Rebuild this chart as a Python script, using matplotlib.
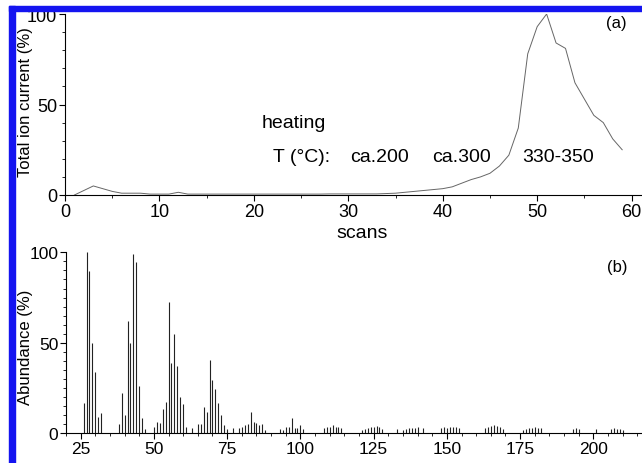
import matplotlib.pyplot as plt
from matplotlib.patches import Rectangle
from matplotlib.ticker import MultipleLocator

plt.rcParams['font.family'] = ['Liberation Sans', 'DejaVu Sans']

# (a) total ion current vs scan number
scans = list(range(1, 60))
tic = [0, 2.5, 5, 3.5, 2, 1, 1, 1, 0.5, 0.5,
       0.5, 1.5, 0.5, 0.5, 0.5, 0.5, 0.5, 0.5, 0.5, 0.5,
       0.5, 0.5, 0.5, 0.5, 0.5, 0.5, 0.5, 0.6, 0.6, 0.6,
       0.6, 0.6, 0.6, 0.8, 1, 1.5, 2, 2.5, 3, 3.5,
       4.5, 6.5, 8.5, 10, 12, 16, 22, 37, 78, 93,
       100, 84, 81, 62, 53, 44, 40, 31, 25]

# (b) mass spectrum
mz = [26, 27, 28, 29, 30, 31, 32,
      38, 39, 40, 41, 42, 43, 44, 45, 46, 47,
      50, 51, 52, 53, 54, 55, 56, 57, 58, 59, 60, 61, 63,
      65, 66, 67, 68, 69, 70, 71, 72, 73, 74, 75, 77,
      79, 80, 81, 82, 83, 84, 85, 86, 87, 88,
      93, 94, 95, 96, 97, 98, 99, 100, 101,
      108, 109, 110, 111, 112, 113, 114,
      121, 122, 123, 124, 125, 126, 127, 128,
      133, 135, 136, 137, 138, 139, 140, 142,
      148, 149, 150, 151, 152, 153, 154,
      163, 164, 165, 166, 167, 168, 169,
      176, 177, 178, 179, 180, 181, 182,
      193, 194, 195,
      201, 206, 207, 208, 209, 210]
abundance = [17, 100, 89.5, 50, 34, 9, 11,
             5, 22, 10, 62, 50, 99, 94.5, 26, 8.5, 2.4,
             3.3, 6, 5.7, 13.4, 17.5, 72.7, 39, 55, 37.4, 20, 16, 3.3, 2.8,
             5.2, 5.2, 14.4, 11.6, 40.7, 29.7, 24.5, 17, 10, 4.6, 2.4, 2.8,
             2.8, 3.3, 4.6, 5.2, 11.6, 6.4, 5.7, 4.8, 5.2, 2,
             2.4, 2, 3.3, 3.7, 8.5, 2.8, 3, 4.8, 2.4,
             3, 3.3, 3.7, 4.6, 3.7, 3.3, 2.8,
             2, 2.4, 2.8, 3.3, 3.7, 3.9, 3.3, 2.4,
             2.4, 2, 2.4, 2.8, 2.8, 3, 3.3, 2.8,
             3, 3.3, 3, 3.7, 3.3, 3.3, 3,
             3, 3.3, 4.2, 4.6, 4.2, 3.7, 2.4,
             2, 2.4, 2.8, 3, 3.3, 3, 2.8,
             2.4, 2.8, 2.4,
             2.4, 2.4, 2.8, 2.4, 2.4, 1.8]

fig = plt.figure(figsize=(6.42, 4.64), dpi=100)
W, H = 642, 464

def px_axes(left, top, right, bottom):
    return fig.add_axes([left / W, 1 - bottom / H, (right - left) / W, (bottom - top) / H])

ax1 = px_axes(65, 15, 642, 196)
ax2 = px_axes(66, 253.3, 642, 434.3)

for ax in (ax1, ax2):
    ax.spines['top'].set_visible(False)
    ax.spines['right'].set_visible(False)
    ax.tick_params(which='major', direction='out', length=4.5, width=0.8, pad=1)
    ax.tick_params(which='minor', direction='out', length=2.5, width=0.6)
    ax.set_ylim(0, 100)
    ax.set_yticks([0, 50, 100])

# top panel
ax1.plot(scans, tic, color='#666666', lw=0.7)
ax1.set_xlim(0, 61.1)
ax1.xaxis.set_major_locator(MultipleLocator(10))
ax1.xaxis.set_minor_locator(MultipleLocator(5))
ax1.yaxis.set_minor_locator(MultipleLocator(10))
ax1.tick_params(labelsize=13)
ax1.set_xlabel('scans', fontsize=14, va='top')
ax1.xaxis.set_label_coords(0.515, -0.16)
ax1.set_ylabel('Total ion current (%)', fontsize=12)
ax1.yaxis.set_label_coords(-0.055, 0.52)

ax1.text(20.8, 40.2, 'heating', fontsize=14, va='center')
ax1.text(22, 21.5, 'T (°C):', fontsize=14, va='center')
ax1.text(30.2, 21.5, 'ca.200', fontsize=14, va='center')
ax1.text(38.9, 21.5, 'ca.300', fontsize=14, va='center')
ax1.text(48.4, 21.5, '330-350', fontsize=14, va='center')
ax1.text(58.4, 95.4, '(a)', fontsize=12, ha='center', va='center')

# bottom panel
ax2.vlines(mz, 0, abundance, color='#222222', lw=0.8)
ax2.set_xlim(20, 216.6)
ax2.xaxis.set_major_locator(MultipleLocator(25))
ax2.xaxis.set_minor_locator(MultipleLocator(5))
ax2.yaxis.set_minor_locator(MultipleLocator(5))
ax2.tick_params(labelsize=12.5)
ax2.set_ylabel('Abundance (%)', fontsize=12)
ax2.yaxis.set_label_coords(-0.057, 0.48)
ax2.text(208, 92.4, '(b)', fontsize=12, ha='center', va='center')

# blue frame
blue = '#1414f0'
fig.add_artist(Rectangle((9.3 / W, 0), 5.7 / W, 1 - 7.3 / H,
                         transform=fig.transFigure, color=blue, zorder=10))
fig.add_artist(Rectangle((9.3 / W, 1 - 12.3 / H), 1, 5 / H,
                         transform=fig.transFigure, color=blue, zorder=10))

fig.savefig('out.png', dpi=100)
